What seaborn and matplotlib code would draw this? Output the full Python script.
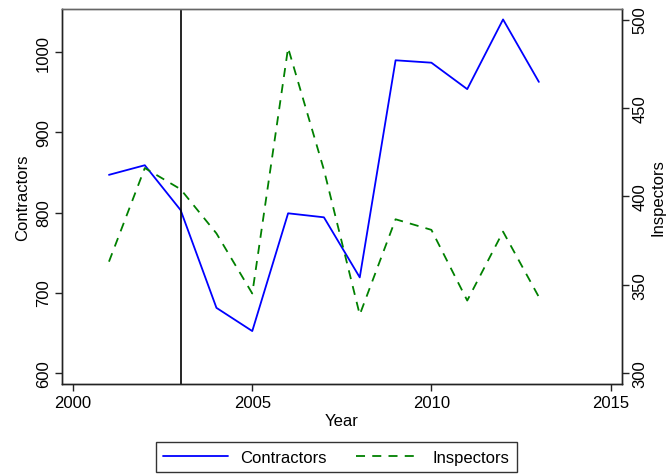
import pandas as pd
import seaborn as sns
import matplotlib.pyplot as plt
from matplotlib.lines import Line2D

# values
years = [2001, 2002, 2003, 2004, 2005, 2006, 2007, 2008, 2009, 2010, 2011, 2012, 2013]
contractors = [847, 859, 803, 681, 652, 799, 794, 719, 990, 987, 954, 1041, 963]
inspectors = [363, 416, 404, 379, 345, 484, 415, 333, 387, 381, 341, 380, 343]
policy_year = 2003

df = pd.DataFrame({'year': years, 'contractors': contractors, 'inspectors': inspectors})

sns.set_style('ticks')
plt.rcParams['font.family'] = ['Liberation Sans', 'DejaVu Sans']
plt.rcParams['font.size'] = 12
plt.rcParams['text.color'] = 'black'
plt.rcParams['axes.labelcolor'] = 'black'
plt.rcParams['xtick.labelcolor'] = 'black'
plt.rcParams['ytick.labelcolor'] = 'black'

fig = plt.figure(figsize=(6.67, 4.77), dpi=100)
ax = fig.add_axes([0.093, 0.193, 0.839, 0.786])
ax2 = ax.twinx()

sns.lineplot(data=df, x='year', y='contractors', ax=ax, color='#0000ff', lw=1.3)
sns.lineplot(data=df, x='year', y='inspectors', ax=ax2, color='#008000', lw=1.3,
             linestyle=(0, (5, 4)))
ax.axvline(policy_year, color='black', lw=1.2)

ax.set_xlim(1999.69, 2015.31)
ax.set_ylim(586, 1054)
ax2.set_ylim(293.8, 506)
ax.set_xticks([2000, 2005, 2010, 2015])
ax.set_yticks([600, 700, 800, 900, 1000])
ax2.set_yticks([300, 350, 400, 450, 500])

for a in (ax, ax2):
    for s in a.spines.values():
        s.set_visible(True)
        s.set_color('#222222')
        s.set_linewidth(1.0)
    a.tick_params(length=5, width=1, labelsize=12, color='#222222', pad=3)
ax.spines['top'].set_color('#666666')
ax2.spines['top'].set_color('#666666')

ax.tick_params(axis='y', labelrotation=90)
for t in ax.get_yticklabels():
    t.set_va('center')
for t in ax2.get_yticklabels():
    t.set_rotation(90)
    t.set_va('center')

ax.set_xlabel('Year', fontsize=12, labelpad=2)
ax.set_ylabel('Contractors', fontsize=12, labelpad=4)
ax2.set_ylabel('Inspectors', fontsize=12, labelpad=2)

handles = [Line2D([], [], color='#0000ff', lw=1.3),
           Line2D([], [], color='#008000', lw=1.3, linestyle=(0, (5, 4)))]
leg = fig.legend(handles, ['Contractors', 'Inspectors'], loc='center',
                 bbox_to_anchor=(0.5045, 0.0388), ncol=2, fontsize=12,
                 frameon=True, fancybox=False, handlelength=3.9,
                 handletextpad=0.7, columnspacing=1.8, borderpad=0.45)
leg.get_frame().set_edgecolor('black')
leg.get_frame().set_linewidth(1.0)

fig.savefig('out.png', dpi=100)
